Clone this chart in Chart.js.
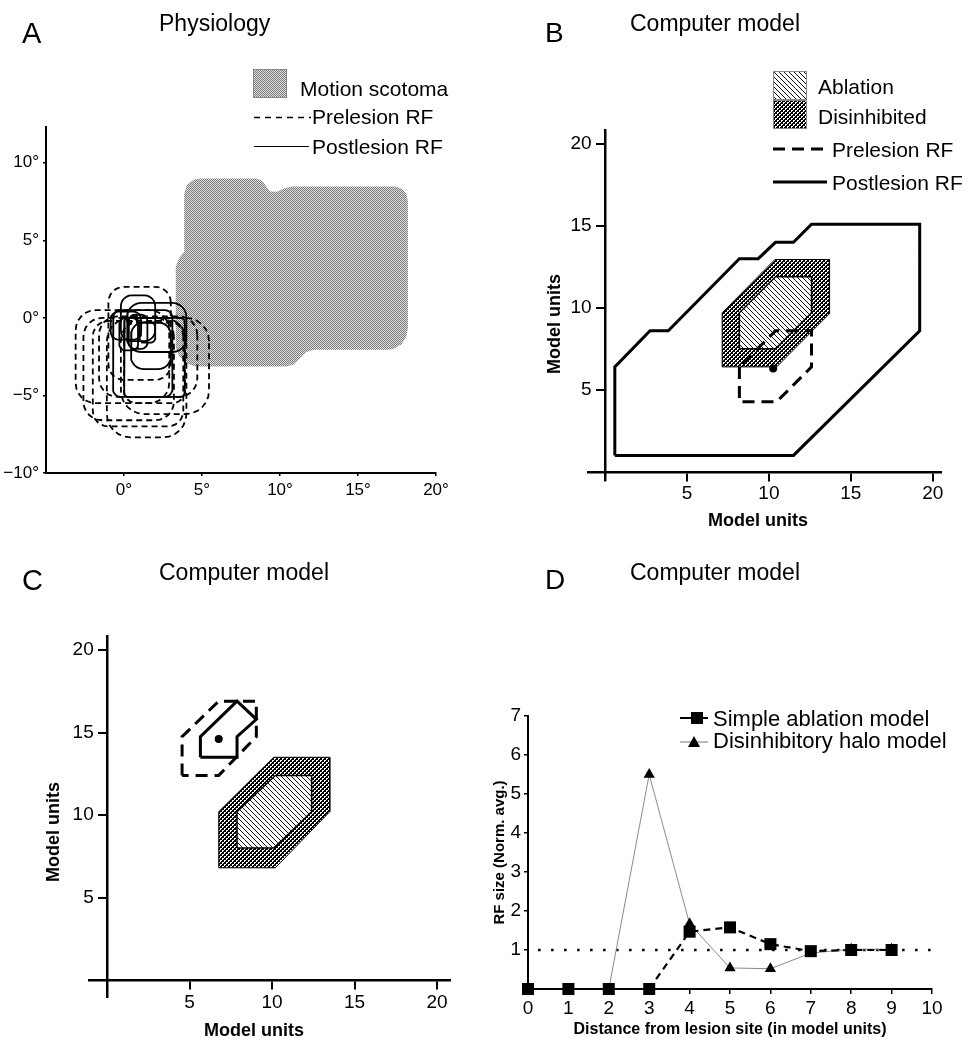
<!DOCTYPE html>
<html><head><meta charset="utf-8">
<script src="https://cdn.jsdelivr.net/npm/chart.js@4.4.1/dist/chart.umd.min.js"></script>
<style>
html,body{margin:0;padding:0;background:#fff;}
body{width:969px;height:1038px;position:relative;overflow:hidden;font-family:'Liberation Sans',Arial,Helvetica,sans-serif;color:#000;}
canvas.cv{position:absolute;}
.t{position:absolute;line-height:1;white-space:nowrap;transform:translateY(-50%);}
.r{position:absolute;line-height:1;white-space:nowrap;transform:translate(-50%,-50%) rotate(-90deg);font-weight:bold;font-size:18px;}
.c{position:absolute;line-height:1;white-space:nowrap;transform:translate(-50%,-50%);font-weight:bold;font-size:18px;}
svg{position:absolute;overflow:visible;}
</style></head><body>

<canvas id="cA" class="cv" width="485" height="540" style="left:0;top:0"></canvas>
<canvas id="cB" class="cv" width="484" height="540" style="left:485px;top:0"></canvas>
<canvas id="cC" class="cv" width="485" height="498" style="left:0;top:540px"></canvas>
<canvas id="cD" class="cv" width="484" height="498" style="left:485px;top:540px"></canvas>

<!-- panel titles -->
<div class="t" style="left:22px;top:33px;font-size:29px">A</div>
<div class="t" style="left:159px;top:23px;font-size:23px">Physiology</div>
<div class="t" style="left:545px;top:33px;font-size:28px">B</div>
<div class="t" style="left:630px;top:23px;font-size:23px">Computer model</div>
<div class="t" style="left:22px;top:580px;font-size:29px">C</div>
<div class="t" style="left:159px;top:572px;font-size:23px">Computer model</div>
<div class="t" style="left:545px;top:580px;font-size:28px">D</div>
<div class="t" style="left:630px;top:572px;font-size:23px">Computer model</div>

<!-- legend A -->
<canvas id="swA" width="34" height="29" style="position:absolute;left:253px;top:69px;"></canvas>
<div class="t" style="left:300px;top:88px;font-size:21px">Motion scotoma</div>
<svg style="left:254px;top:117px" width="58" height="2"><line x1="0" y1="0.5" x2="57" y2="0.5" stroke="#000" stroke-width="1.5" stroke-dasharray="6,5"/></svg>
<div class="t" style="left:312px;top:116px;font-size:21px">Prelesion RF</div>
<svg style="left:254px;top:146px" width="56" height="2"><line x1="0" y1="0.5" x2="55" y2="0.5" stroke="#000" stroke-width="1"/></svg>
<div class="t" style="left:312px;top:146px;font-size:21px">Postlesion RF</div>

<!-- legend B -->
<canvas id="swB1" width="34" height="29" style="position:absolute;left:773px;top:71px;"></canvas>
<canvas id="swB2" width="34" height="29" style="position:absolute;left:773px;top:100px;"></canvas>
<div class="t" style="left:818px;top:86px;font-size:21px">Ablation</div>
<div class="t" style="left:818px;top:116px;font-size:21px">Disinhibited</div>
<svg style="left:773px;top:149px" width="55" height="3"><line x1="0" y1="0" x2="54" y2="0" stroke="#000" stroke-width="3" stroke-dasharray="12,7"/></svg>
<div class="t" style="left:832px;top:149px;font-size:21px">Prelesion RF</div>
<svg style="left:773px;top:182px" width="55" height="3"><line x1="0" y1="0" x2="54" y2="0" stroke="#000" stroke-width="3"/></svg>
<div class="t" style="left:832px;top:182px;font-size:21px">Postlesion RF</div>

<!-- legend D -->
<svg style="left:680px;top:718px" width="30" height="3"><line x1="0" y1="0" x2="28" y2="0" stroke="#000" stroke-width="2"/></svg>
<div style="position:absolute;left:691px;top:712px;width:12px;height:12px;background:#000"></div>
<div class="t" style="left:713px;top:719px;font-size:22px">Simple ablation model</div>
<svg style="left:680px;top:742px" width="30" height="3"><line x1="0" y1="0" x2="28" y2="0" stroke="#777" stroke-width="1"/></svg>
<div style="position:absolute;left:688px;top:736px;width:0;height:0;border-left:6px solid transparent;border-right:6px solid transparent;border-bottom:11px solid #000"></div>
<div class="t" style="left:713px;top:741px;font-size:22px">Disinhibitory halo model</div>

<!-- axis titles B, C -->
<div class="c" style="left:758px;top:520px">Model units</div>
<div class="r" style="left:554px;top:324px">Model units</div>
<div class="c" style="left:254px;top:1030px">Model units</div>
<div class="r" style="left:53px;top:832px">Model units</div>

<script>
// ---------------- DATA ----------------
// Panel A (degrees): motion scotoma outline
const scotoma = [[3.86,8.0],[4.05,8.6],[4.5,8.92],[4.9,8.98],[8.45,8.98],[8.85,8.85],[9.1,8.5],[9.35,8.15],[9.8,8.12],[10.3,8.35],[10.8,8.46],[17.4,8.46],[17.85,8.3],[18.1,8.0],[18.2,7.5],[18.2,-0.6],[18.1,-1.2],[17.8,-1.7],[17.3,-2.0],[16.9,-2.06],[12.2,-2.06],[11.7,-2.2],[11.3,-2.6],[10.9,-3.0],[10.4,-3.13],[4.6,-3.13],[4.0,-2.95],[3.55,-2.5],[3.32,-1.9],[3.32,3.3],[3.5,3.8],[3.86,4.27],[3.86,8.0]];
// Panel A receptive fields: [left, bottom, right, top, cornerRadius]
const preRF = [
  [-1.0,-4.0,3.0,2.0,1.0],
  [-1.1,-7.7,4.0,0.0,1.5],
  [-3.1,-5.5,2.9,0.5,1.3],
  [-2.6,-6.6,3.2,0.0,1.2],
  [-2.0,-7.0,3.8,-0.2,1.0],
  [-0.2,-6.2,5.45,0.0,1.5],
  [-1.6,-5.1,4.7,0.1,1.2],
  [0.0,-5.5,3.9,-0.3,0.8]
];
const postRF = [
  [-0.2,-1.5,2.0,1.45,0.7],
  [0.2,-2.2,4.0,0.96,0.9],
  [-0.7,-5.1,3.1,0.5,0.5],
  [0.0,-5.1,3.9,0.0,0.3],
  [-0.85,-1.4,1.1,0.4,0.5],
  [0.45,-3.3,3.0,-0.3,0.8],
  [0.3,-2.0,1.5,0.2,0.4],
  [-0.3,-2.1,0.9,0.0,0.4],
  [1.0,-1.6,2.0,-0.3,0.3]
];
const aTicksX = [0,5,10,15,20];
const aTicksY = [-10,-5,0,5,10];

// Panel B (model units)
const bPost = [[0.6,1],[0.6,6.4],[2.75,8.6],[3.86,8.6],[8.2,13.0],[9.35,13.0],[10.4,14.0],[11.5,14.0],[12.6,15.1],[19.2,15.1],[19.2,8.6],[11.5,1],[0.6,1]];
const bDis = [[7.15,6.4],[7.15,9.7],[10.37,12.95],[13.7,12.95],[13.7,9.65],[10.47,6.4],[7.15,6.4]];
const bAbl = [[8.2,7.5],[8.2,9.7],[10.4,11.9],[12.6,11.9],[12.6,9.7],[10.4,7.5],[8.2,7.5]];
const bPre = [[8.2,6.4],[8.2,4.27],[10.47,4.27],[12.6,6.4],[12.6,8.6],[10.4,8.6],[8.2,6.4]];
const bDot = [[10.26,6.3]];

// Panel C (model units)
const cDis = [[6.77,6.8],[6.77,10.2],[10.1,13.5],[13.5,13.5],[13.5,10.2],[10.2,6.8],[6.77,6.8]];
const cAbl = [[7.88,8.0],[7.88,10.2],[10.2,12.4],[12.4,12.4],[12.4,10.2],[10.1,8.0],[7.88,8.0]];
const cPre = [[4.55,12.4],[4.55,14.75],[6.77,16.9],[9.05,16.9],[9.05,14.75],[6.77,12.4],[4.55,12.4]];
const cPost = [[5.66,13.5],[5.66,14.75],[7.88,16.9],[9.05,15.8],[7.88,14.75],[7.88,13.5],[5.66,13.5]];
const cDot = [[6.77,14.6]];

// Panel D
const distance = [0,1,2,3,4,5,6,7,8,9];
const simpleAblation = [0,0,0,0,1.47,1.58,1.15,0.97,1.0,1.0];
const disinhibHalo = [0,0,0,5.5,1.67,0.54,0.52,0.92,1.02,1.02];
const refLevel = [1,1];
const refSpan = [0.25,10];

// ---------------- HELPERS ----------------
const FF = "'Liberation Sans', Arial, Helvetica, sans-serif";
Chart.defaults.font.family = FF;
Chart.defaults.color = '#000';

function tile(kind){
  const c = document.createElement('canvas'); const g = c.getContext('2d');
  if(kind==='stipple'){ c.width=2;c.height=2; g.fillStyle='#e2e2e2'; g.fillRect(0,0,2,2); g.fillStyle='#787878'; g.fillRect(0,0,1,1); g.fillRect(1,1,1,1); }
  else if(kind==='hatch'){ c.width=5;c.height=5; g.fillStyle='#fff'; g.fillRect(0,0,5,5); g.fillStyle='#111'; for(let i=0;i<5;i++) g.fillRect(i,i,1,1); }
  else { c.width=4;c.height=4; g.fillStyle='#000'; g.fillRect(0,0,4,4); g.fillStyle='#fff';
         g.fillRect(0,0,2,1); g.fillRect(0,1,1,1); g.fillRect(2,2,2,1); g.fillRect(2,3,1,1); }
  return c;
}
function pat(canvas, kind){ return canvas.getContext('2d').createPattern(tile(kind),'repeat'); }
function pts(arr){ return arr.map(([x,y])=>({x,y})); }
function roundedRect(b){
  const [x1,y1,x2,y2,r] = b; const out=[]; const n=6;
  const corners=[[x2-r,y2-r,0],[x1+r,y2-r,90],[x1+r,y1+r,180],[x2-r,y1+r,270]];
  for(const [cx,cy,a0] of corners){ for(let k=0;k<=n;k++){ const a=(a0+90*k/n)*Math.PI/180; out.push({x:cx+r*Math.cos(a), y:cy+r*Math.sin(a)}); } }
  out.push({...out[0]}); return out;
}
function swatch(id, kind){ const c=document.getElementById(id); const g=c.getContext('2d'); g.fillStyle=pat(c,kind); g.fillRect(0,0,c.width,c.height); g.strokeStyle='#888'; g.lineWidth=1; g.strokeRect(0.5,0.5,c.width-1,c.height-1); }
swatch('swA','stipple'); swatch('swB1','hatch'); swatch('swB2','checker');

const minus = v => String(v).replace('-', '\u2212');
const baseOpts = {responsive:false, animation:false, events:[], plugins:{legend:{display:false}, tooltip:{enabled:false}}};
const axisGrid = (tl,lw)=>({display:true, drawOnChartArea:false, drawTicks:true, tickLength:tl, color:'#000', lineWidth:lw});

// ---------------- PANEL A ----------------
const cA = document.getElementById('cA');
new Chart(cA, {
  type:'scatter',
  data:{datasets:[
    ...postRF.map(b=>({data:roundedRect(b), showLine:true, borderColor:'#000', borderWidth:1.8, pointRadius:0, fill:false})),
    ...preRF.map(b=>({data:roundedRect(b), showLine:true, borderColor:'#000', borderWidth:1.8, borderDash:[6,4], pointRadius:0, fill:false})),
    {data:pts(scotoma), showLine:true, borderColor:'rgba(0,0,0,0)', borderWidth:1, backgroundColor:pat(cA,'stipple'), fill:'shape', pointRadius:0}
  ]},
  options:{...baseOpts,
    layout:{padding:{left:0,right:49,top:127,bottom:0}},
    scales:{
      x:{type:'linear', min:-5, max:20, afterFit:s=>{s.height=67;},
         afterBuildTicks:s=>{s.ticks=aTicksX.map(v=>({value:v}));},
         ticks:{callback:v=>minus(v)+'°', font:{size:17}, padding:4, maxRotation:0, autoSkip:false},
         grid:axisGrid(3,1.5), border:{display:true,color:'#000',width:2}},
      y:{type:'linear', min:-10, max:12.3, afterFit:s=>{s.width=46;},
         afterBuildTicks:s=>{s.ticks=aTicksY.map(v=>({value:v}));},
         ticks:{callback:v=>minus(v)+'°', font:{size:17}, padding:4},
         grid:axisGrid(3,1.5), border:{display:true,color:'#000',width:2}}
    }}
});

// ---------------- PANEL B / C ----------------
function modelPanel(canvas, polys, ranges, pad){
  return new Chart(canvas, {
    type:'scatter',
    data:{datasets:[
      {data:pts(polys.dot), showLine:false, pointRadius:4, pointBackgroundColor:'#000', pointBorderWidth:0},
      {data:pts(polys.pre), showLine:true, borderColor:'#000', borderWidth:3, borderDash:[12,7], pointRadius:0, fill:false},
      {data:pts(polys.post), showLine:true, borderColor:'#000', borderWidth:3, pointRadius:0, fill:false},
      {data:pts(polys.abl), showLine:true, borderColor:'#000', borderWidth:1.5, backgroundColor:pat(canvas,'hatch'), fill:'shape', pointRadius:0},
      {data:pts(polys.dis), showLine:true, borderColor:'#000', borderWidth:1, backgroundColor:pat(canvas,'checker'), fill:'shape', pointRadius:0}
    ]},
    options:{...baseOpts,
      layout:{padding:pad},
      scales:{
        x:{type:'linear', position:{y:0}, min:ranges.x[0], max:ranges.x[1], afterFit:s=>{s.height=0;},
           ticks:{stepSize:5, includeBounds:false, callback:v=>v===0?'':String(v), font:{size:19}, padding:3, maxRotation:0, autoSkip:false},
           grid:axisGrid(8,2), border:{display:true,color:'#000',width:2.5}},
        y:{type:'linear', position:{x:0}, min:ranges.y[0], max:ranges.y[1], afterFit:s=>{s.width=0;},
           ticks:{stepSize:5, includeBounds:false, callback:v=>v===0?'':v+'\u2002\u2009', font:{size:19}},
           grid:axisGrid(8,2), border:{display:true,color:'#000',width:2.5}}
      }}
  });
}
modelPanel(document.getElementById('cB'), {dot:bDot, pre:bPre, post:bPost, abl:bAbl, dis:bDis},
  {x:[-1,20.5], y:[-0.5,20.85]}, {left:103.6, right:28, top:130, bottom:60});
modelPanel(document.getElementById('cC'), {dot:cDot, pre:cPre, post:cPost, abl:cAbl, dis:cDis},
  {x:[-1.05,20.8], y:[-1,20.85]}, {left:89.7, right:34.8, top:96, bottom:41.5});

// ---------------- PANEL D ----------------
new Chart(document.getElementById('cD'), {
  type:'scatter',
  data:{datasets:[
    {data:distance.map((x,i)=>({x, y:simpleAblation[i]})), showLine:true, borderColor:'#000', borderWidth:2.2,
     segment:{borderDash:ctx=>ctx.p0DataIndex>=3?[7,5]:undefined},
     pointStyle:'rect', pointRadius:8.5, pointBackgroundColor:'#000', pointBorderWidth:0, clip:false},
    {data:distance.map((x,i)=>({x, y:disinhibHalo[i]})), showLine:true, borderColor:'#8a8a8a', borderWidth:1,
     pointStyle:'triangle', pointRadius:ctx=>disinhibHalo[ctx.dataIndex]===0?0:6.5, pointBackgroundColor:'#000', pointBorderColor:'#000', pointBorderWidth:0, clip:false},
    {data:refSpan.map((x,i)=>({x, y:refLevel[i]})), showLine:true, borderColor:'#000', borderWidth:2.5, borderDash:[2.5,10.5], pointRadius:0}
  ]},
  options:{...baseOpts,
    layout:{padding:{left:0,right:37,top:176,bottom:0}},
    scales:{
      x:{type:'linear', min:0, max:10, afterFit:s=>{s.height=49;},
         ticks:{stepSize:1, font:{size:19}, padding:3, maxRotation:0, autoSkip:false},
         grid:axisGrid(5,1.5), border:{display:true,color:'#000',width:2},
         title:{display:true, text:'Distance from lesion site (in model units)', font:{size:16, weight:'bold', lineHeight:1}, padding:0}},
      y:{type:'linear', min:0, max:7, afterFit:s=>{s.width=43;},
         ticks:{stepSize:1, callback:v=>v===0?'':String(v), font:{size:19}, padding:3},
         grid:axisGrid(4,1.5), border:{display:true,color:'#000',width:2},
         title:{display:true, text:'RF size (Norm. avg.)', font:{size:15, weight:'bold', lineHeight:1}, padding:{top:7,bottom:0}}}
    }}
});
</script>
</body></html>
